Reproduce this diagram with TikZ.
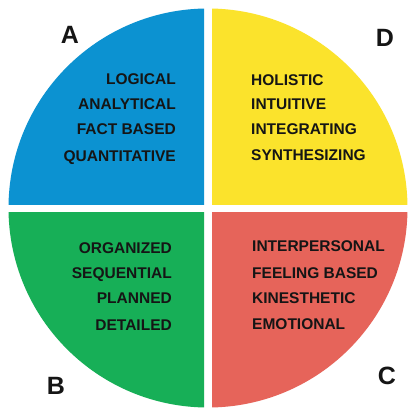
\documentclass[tikz,border=0pt]{standalone}
\usepackage{fontspec}
\setmainfont{Liberation Sans}
\definecolor{qblue}{HTML}{0C92D1}
\definecolor{qyellow}{HTML}{FBE32C}
\definecolor{qgreen}{HTML}{17AF57}
\definecolor{qred}{HTML}{E6645A}
\definecolor{ink}{HTML}{151515}
\begin{document}
\begin{tikzpicture}[x=1pt,y=-1pt,
  word/.style={inner sep=0pt,text=ink,font=\fontsize{15.5}{16}\selectfont\bfseries},
  letter/.style={inner sep=0pt,text=ink,font=\fontsize{25}{26}\selectfont\bfseries}]
\useasboundingbox (0,0) rectangle (407,409);
\fill[white] (0,0) rectangle (407,409);
\def\R{199.5}
\begin{scope}\clip (0,0) rectangle (204,204);\fill[qblue] (208,208) circle (\R);\end{scope}
\begin{scope}\clip (212,0) rectangle (410,204);\fill[qyellow] (208,208) circle (\R);\end{scope}
\begin{scope}\clip (0,212) rectangle (204,410);\fill[qgreen] (208,208) circle (\R);\end{scope}
\begin{scope}\clip (212,212) rectangle (410,410);\fill[qred] (208,208) circle (\R);\end{scope}
% A block
\node[word,anchor=base east] (a1) at (176,84.8) {LOGICAL};
\node[word,anchor=base east] (a2) at (176,109.8) {ANALYTICAL};
\node[word,anchor=base east] (a3) at (176,134.8) {FACT BASED};
\node[word,anchor=base east] (a4) at (176,161.8) {QUANTITATIVE};
% D block
\node[word,anchor=base west] (d1) at (251,85.8) {HOLISTIC};
\node[word,anchor=base west] (d2) at (251,109.8) {INTUITIVE};
\node[word,anchor=base west] (d3) at (251,134.8) {INTEGRATING};
\node[word,anchor=base west] (d4) at (251,160.8) {SYNTHESIZING};
% B block
\node[word,anchor=base east] (b1) at (172,253.8) {ORGANIZED};
\node[word,anchor=base east] (b2) at (172,278.8) {SEQUENTIAL};
\node[word,anchor=base east] (b3) at (172,303.8) {PLANNED};
\node[word,anchor=base east] (b4) at (172,330.8) {DETAILED};
% C block
\node[word,anchor=base west] (c1) at (252,251.8) {INTERPERSONAL};
\node[word,anchor=base west] (c2) at (252,278.8) {FEELING BASED};
\node[word,anchor=base west] (c3) at (252,303.8) {KINESTHETIC};
\node[word,anchor=base west] (c4) at (252,329.8) {EMOTIONAL};
% letters
\node[letter] (la) at (70,35) {A};
\node[letter] (ld) at (385,38) {D};
\node[letter] (lb) at (56,386) {B};
\node[letter] (lc) at (387,376) {C};
\end{tikzpicture}
\end{document}
